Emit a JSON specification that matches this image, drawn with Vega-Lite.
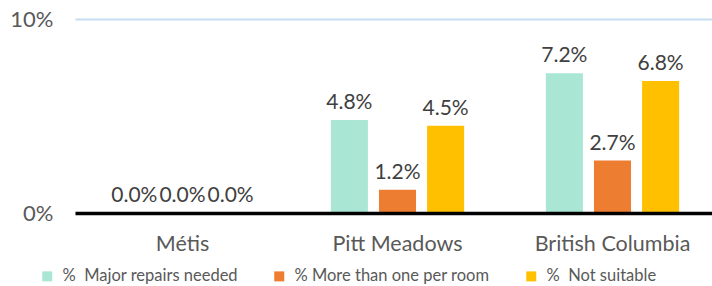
{
  "$schema": "https://vega.github.io/schema/vega-lite/v6.json",
  "width": 645,
  "height": 194,
  "autosize": {"type": "none"},
  "padding": {"left": 75, "top": 19, "right": 0, "bottom": 73},
  "config": {
    "font": "Lato",
    "view": {"stroke": null},
    "background": "white"
  },
  "data": {
    "values": [
      {"group": "Métis", "series": "%\u00a0 Major repairs needed", "value": 0.0},
      {"group": "Métis", "series": "% More than one per room", "value": 0.0},
      {"group": "Métis", "series": "%\u00a0 Not suitable", "value": 0.0},
      {"group": "Pitt Meadows", "series": "%\u00a0 Major repairs needed", "value": 0.048},
      {"group": "Pitt Meadows", "series": "% More than one per room", "value": 0.012},
      {"group": "Pitt Meadows", "series": "%\u00a0 Not suitable", "value": 0.045},
      {"group": "British Columbia", "series": "%\u00a0 Major repairs needed", "value": 0.072},
      {"group": "British Columbia", "series": "% More than one per room", "value": 0.027},
      {"group": "British Columbia", "series": "%\u00a0 Not suitable", "value": 0.068}
    ]
  },
  "encoding": {
    "x": {
      "field": "group",
      "type": "nominal",
      "sort": ["Métis", "Pitt Meadows", "British Columbia"],
      "scale": {"paddingInner": 0.38, "paddingOuter": 0.19},
      "axis": {
        "title": null,
        "labelAngle": 0,
        "labelFontSize": 21.5,
        "labelColor": "#595959",
        "labelPadding": 20,
        "ticks": false,
        "domain": true,
        "domainColor": "#000000",
        "domainWidth": 3.5,
        "zindex": 1
      }
    },
    "xOffset": {
      "field": "series",
      "type": "nominal",
      "sort": ["%\u00a0 Major repairs needed", "% More than one per room", "%\u00a0 Not suitable"],
      "scale": {"paddingInner": 0.23, "paddingOuter": 0}
    },
    "y": {
      "field": "value",
      "type": "quantitative",
      "scale": {"domain": [0, 0.1]},
      "axis": {
        "title": null,
        "values": [0, 0.1],
        "format": ".0%",
        "labelFontSize": 22,
        "labelColor": "#595959",
        "labelPadding": 22,
        "ticks": false,
        "domain": false,
        "grid": true,
        "gridColor": "#C5DDF2",
        "gridWidth": 2
      }
    }
  },
  "layer": [
    {
      "mark": {"type": "bar"},
      "encoding": {
        "color": {
          "field": "series",
          "type": "nominal",
          "sort": ["%\u00a0 Major repairs needed", "% More than one per room", "%\u00a0 Not suitable"],
          "scale": {
            "domain": ["%\u00a0 Major repairs needed", "% More than one per room", "%\u00a0 Not suitable"],
            "range": ["#A9E6D3", "#ED7D31", "#FFC000"]
          },
          "legend": {
            "title": null,
            "orient": "none",
            "direction": "horizontal",
            "legendX": -36,
            "legendY": 249,
            "symbolType": "square",
            "symbolSize": 100,
            "symbolStrokeWidth": 0,
            "symbolOpacity": 1,
            "labelFontSize": 16.5,
            "labelColor": "#595959",
            "labelOffset": 7,
            "columnPadding": 33,
            "labelLimit": 400
          }
        }
      }
    },
    {
      "mark": {"type": "text", "baseline": "bottom", "dy": -7, "fontSize": 21, "color": "#404040"},
      "encoding": {
        "text": {"field": "value", "type": "quantitative", "format": ".1%"}
      }
    }
  ]
}
